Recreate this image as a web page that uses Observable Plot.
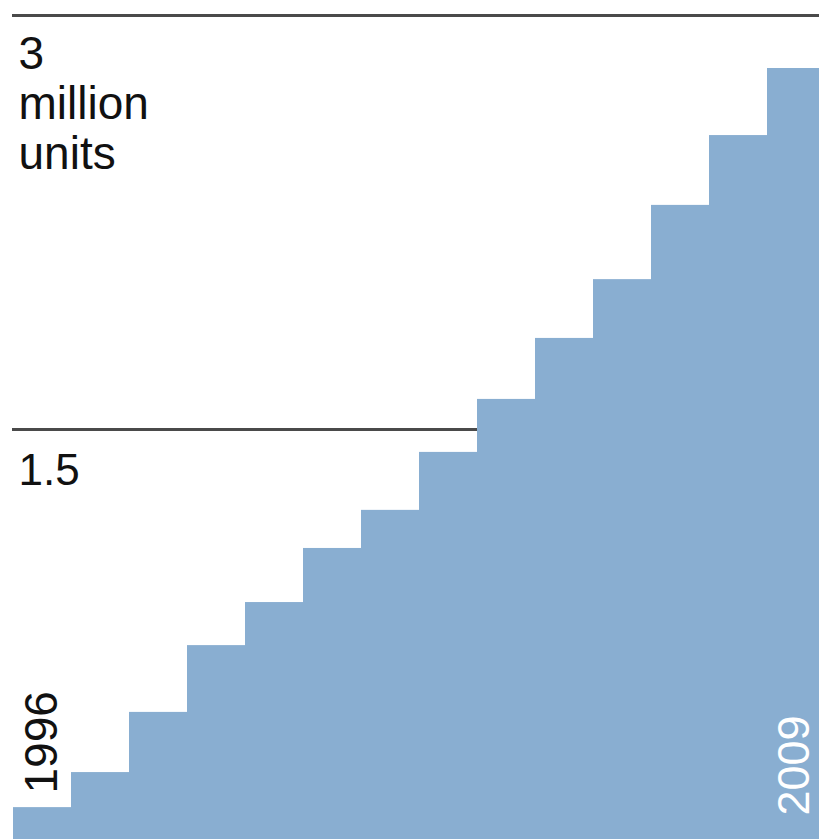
<!DOCTYPE html>
<html>
<head>
<meta charset="utf-8">
<script src="https://cdn.jsdelivr.net/npm/d3@7"></script>
<script src="https://cdn.jsdelivr.net/npm/@observablehq/plot@0.6"></script>
<style>
  html, body { margin: 0; padding: 0; background: #fff; overflow: hidden; }
  #chart svg { display: block; }
</style>
</head>
<body>
<div id="chart"></div>
<script>
// Years and sales (million units)
const years = [1996, 1997, 1998, 1999, 2000, 2001, 2002, 2003, 2004, 2005, 2006, 2007, 2008, 2009];
const sales = [0.13, 0.257, 0.475, 0.717, 0.873, 1.069, 1.207, 1.417, 1.609, 1.830, 2.043, 2.312, 2.565, 2.808];

// Gridline values and their labels
const tickValues = [1.5, 3];
const tickLabels = ["1.5", "3\nmillion\nunits"];

// Year labels shown on the chart
const labelYears = [1996, 2009];
const labelColors = ["#111111", "#ffffff"];

const data = years.map((year, i) => ({year, value: sales[i]}));
const ticks = tickValues.map((v, i) => ({value: v, label: tickLabels[i]}));
const yearLabels = labelYears.map((y, i) => ({year: y, label: String(y), color: labelColors[i]}));

const font = "'Liberation Sans', Arial, Helvetica, sans-serif";

const chart = Plot.plot({
  width: 819,
  height: 839,
  marginLeft: 12,
  marginRight: 0,
  marginTop: 0,
  marginBottom: 0,
  style: {fontFamily: font, background: "#fff", overflow: "visible"},
  x: {type: "band", domain: years, range: [12, 826], padding: 0, axis: null},
  y: {domain: [0, 3], range: [843, 15], axis: null},
  marks: [
    Plot.ruleY(ticks, {y: "value", stroke: "#4a4a4a", strokeWidth: 2.8}),
    Plot.barY(data, {x: "year", y: "value", fill: "#89aed1", inset: 0}),
    Plot.text(ticks.filter(d => d.value === 3), {
      y: "value", text: "label", frameAnchor: "left", textAnchor: "start",
      lineAnchor: "top", dx: 6, dy: 18, fontSize: 46, lineHeight: 1.09, fill: "#111"
    }),
    Plot.text(ticks.filter(d => d.value === 1.5), {
      y: "value", text: "label", frameAnchor: "left", textAnchor: "start",
      lineAnchor: "top", dx: 6, dy: 24, fontSize: 44, fill: "#111"
    }),
    Plot.text(yearLabels.filter(d => d.year === 1996), {
      x: "year", text: "label", frameAnchor: "bottom", rotate: -90,
      textAnchor: "start", lineAnchor: "middle", dy: -46, fontSize: 46, fill: "color"
    }),
    Plot.text(yearLabels.filter(d => d.year === 2009), {
      x: "year", text: "label", frameAnchor: "bottom", rotate: -90,
      textAnchor: "start", lineAnchor: "middle", dx: -2, dy: -24, fontSize: 45, fill: "color"
    })
  ]
});
document.getElementById("chart").appendChild(chart);
</script>
</body>
</html>
